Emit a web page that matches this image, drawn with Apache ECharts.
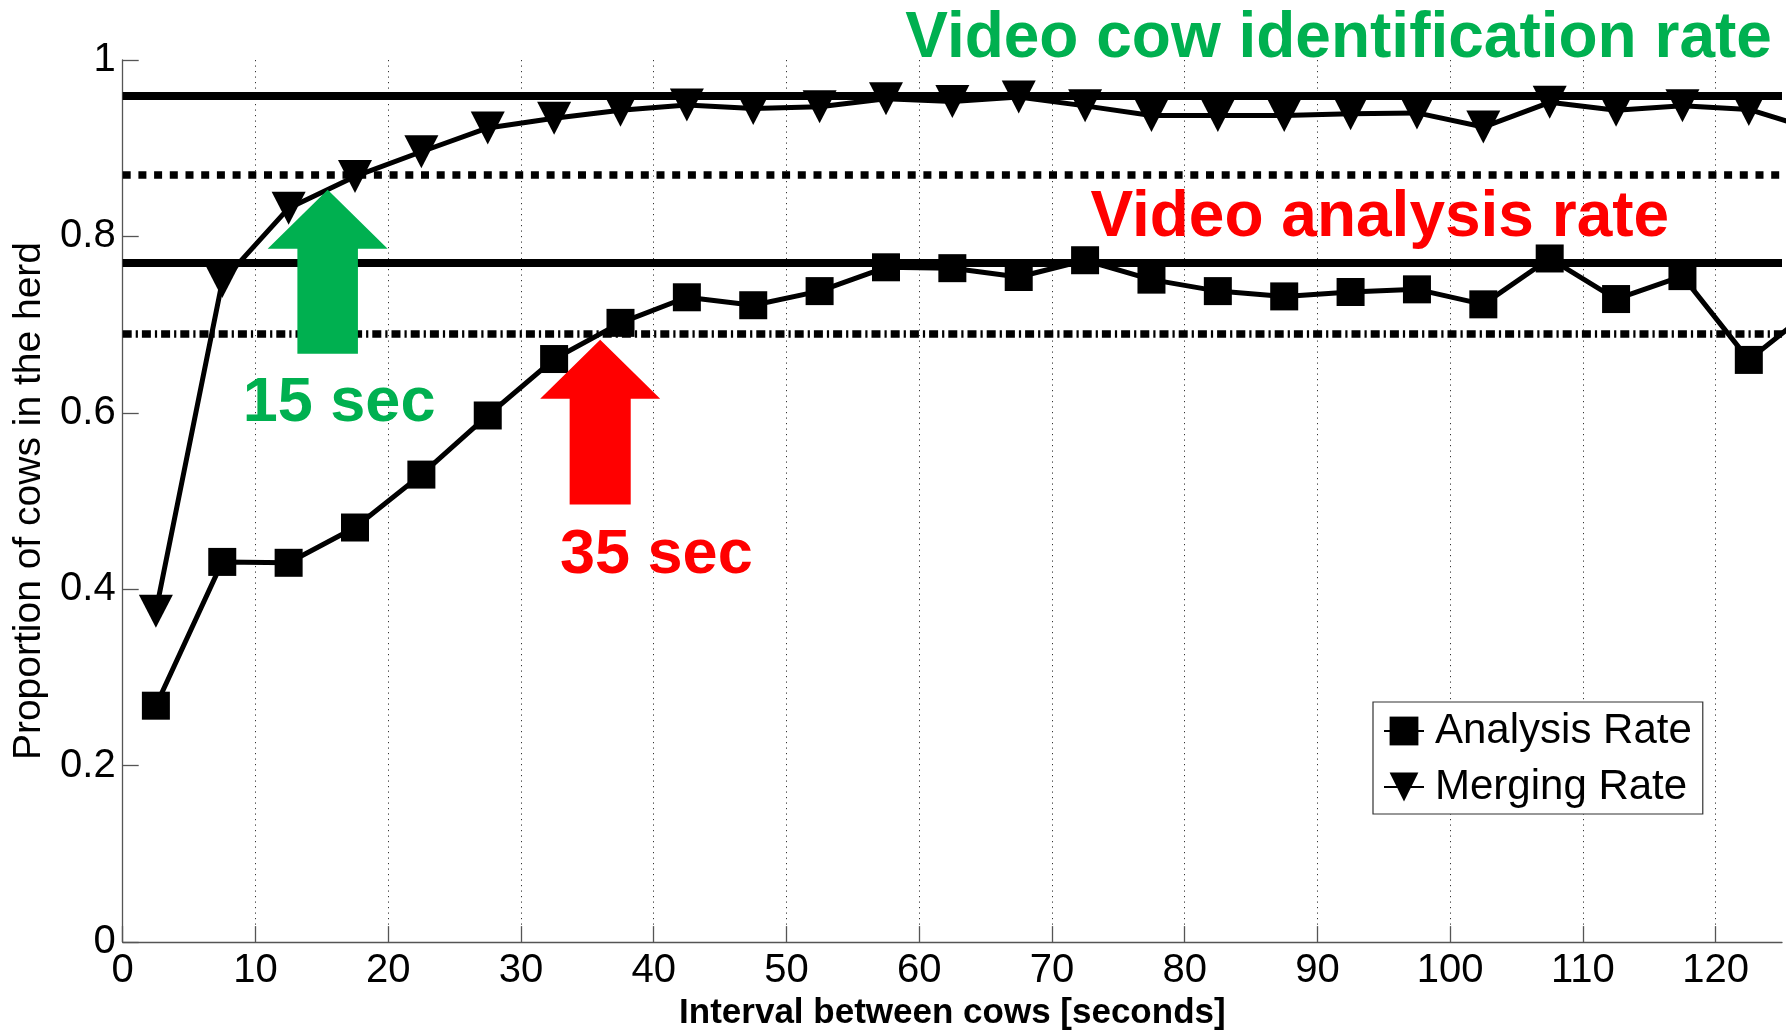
<!DOCTYPE html>
<html>
<head>
<meta charset="utf-8">
<script src="https://cdn.jsdelivr.net/npm/echarts@6/dist/echarts.min.js"></script>
<style>
  html, body { margin: 0; padding: 0; background: #fff; }
  #chart { width: 1789px; height: 1036px; }
</style>
</head>
<body>
<div id="chart"></div>
<script>
// Interval between cows (seconds), bin centres
const intervals = [2.5, 7.5, 12.5, 17.5, 22.5, 27.5, 32.5, 37.5, 42.5, 47.5,
  52.5, 57.5, 62.5, 67.5, 72.5, 77.5, 82.5, 87.5, 92.5, 97.5,
  102.5, 107.5, 112.5, 117.5, 122.5, 127.5];

// Proportion of cows in the herd
const analysisRate = [0.268, 0.431, 0.430, 0.470, 0.530, 0.597, 0.661, 0.702, 0.731, 0.722,
  0.738, 0.765, 0.764, 0.754, 0.773, 0.751, 0.738, 0.732, 0.737, 0.740,
  0.723, 0.775, 0.729, 0.755, 0.660, 0.72];
const mergingRate = [0.375, 0.749, 0.832, 0.868, 0.896, 0.923, 0.934, 0.943, 0.949, 0.945,
  0.947, 0.956, 0.953, 0.958, 0.948, 0.937, 0.937, 0.937, 0.939, 0.940,
  0.924, 0.952, 0.943, 0.948, 0.944, 0.921];

// Reference levels: video cow identification rate / video analysis rate
const identificationLevels = [0.965, 0.868];
const analysisLevels = [0.772, 0.692];

const xTicks = [0, 10, 20, 30, 40, 50, 60, 70, 80, 90, 100, 110, 120];
const seriesNames = ['Analysis Rate', 'Merging Rate'];

const GREEN = '#00B050';
const RED = '#FF0000';
const FONT = '"Liberation Sans", Arial, Helvetica, sans-serif';

// Annotation layer (arrows and labels) placed in data units
const annotations = [
  { kind: 'arrow', tip: [15.44, 0.853], headBase: 0.786, tail: 0.667, headHalf: 4.52, shaftHalf: 2.28, color: GREEN },
  { kind: 'arrow', tip: [35.97, 0.683], headBase: 0.616, tail: 0.496, headHalf: 4.52, shaftHalf: 2.3, color: RED },
  { kind: 'text', at: [91.6, 1.023], text: 'Video cow identification rate', color: GREEN, size: 64 },
  { kind: 'text', at: [94.7, 0.820], text: 'Video analysis rate', color: RED, size: 64 },
  { kind: 'text', at: [16.3, 0.610], text: '15 sec', color: GREEN, size: 63 },
  { kind: 'text', at: [40.2, 0.438], text: '35 sec', color: RED, size: 63 }
];

const pairs = (xs, ys) => xs.map((x, i) => [x, ys[i]]);

const refLine = (value, type, width) => ({
  yAxis: value,
  lineStyle: { color: '#000', width: width, type: type, cap: 'butt' }
});

const chart = echarts.init(document.getElementById('chart'), null, { renderer: 'canvas' });

chart.setOption({
  animation: false,
  backgroundColor: '#fff',
  textStyle: { fontFamily: FONT },
  grid: { left: 122.7, right: 7, top: 60, bottom: 87 },
  legend: {
    orient: 'vertical',
    left: 1373,
    top: 702,
    data: seriesNames,
    backgroundColor: '#fff',
    borderColor: '#333',
    borderWidth: 1.2,
    borderRadius: 0,
    padding: [8, 11, 6, 10],
    itemWidth: 40,
    itemHeight: 36,
    itemGap: 14,
    textStyle: { fontSize: 42, color: '#000', fontFamily: FONT, padding: [0, 0, 0, 6] }
  },
  xAxis: {
    type: 'value',
    min: 0,
    max: 125,
    interval: 10,
    name: 'Interval between cows [seconds]',
    nameLocation: 'middle',
    nameGap: 52,
    nameTextStyle: { fontSize: 35, fontWeight: 'bold', color: '#000', fontFamily: FONT },
    axisLine: { show: true, lineStyle: { color: '#555', width: 1.3 } },
    axisTick: { show: true, inside: true, length: 16, customValues: xTicks, lineStyle: { color: '#555', width: 1.3 } },
    axisLabel: { customValues: xTicks, fontSize: 40, color: '#000', margin: 9, fontFamily: FONT },
    splitLine: { show: true, lineStyle: { color: '#333', width: 1, type: [1.2, 4.3] } }
  },
  yAxis: {
    type: 'value',
    min: 0,
    max: 1,
    interval: 0.2,
    name: 'Proportion of cows in the herd',
    nameLocation: 'middle',
    nameGap: 69,
    nameTextStyle: { fontSize: 39, color: '#000', fontFamily: FONT },
    axisLine: { show: true, lineStyle: { color: '#555', width: 1.3 } },
    axisTick: { show: true, inside: true, length: 16, lineStyle: { color: '#555', width: 1.3 } },
    axisLabel: { fontSize: 40, color: '#000', margin: 7, fontFamily: FONT },
    splitLine: { show: false }
  },
  series: [
    {
      name: seriesNames[0],
      type: 'line',
      data: pairs(intervals, analysisRate),
      symbol: 'rect',
      symbolSize: 28,
      showAllSymbol: true,
      clip: true,
      z: 3,
      lineStyle: { color: '#000', width: 5 },
      itemStyle: { color: '#000' },
      markLine: {
        silent: true,
        symbol: ['none', 'none'],
        label: { show: false },
        z: 2,
        data: [
          refLine(identificationLevels[0], 'solid', 8),
          refLine(identificationLevels[1], [8, 7.7], 7.5),
          refLine(analysisLevels[0], 'solid', 8),
          refLine(analysisLevels[1], [9, 4, 2.2, 4], 7.5)
        ]
      }
    },
    {
      name: seriesNames[1],
      type: 'line',
      data: pairs(intervals, mergingRate),
      symbol: 'path://M0,0L2,0L1,2Z',
      symbolSize: [34, 33],
      symbolKeepAspect: false,
      showAllSymbol: true,
      clip: true,
      z: 3,
      lineStyle: { color: '#000', width: 5 },
      itemStyle: { color: '#000' }
    },
    {
      name: 'annotations',
      type: 'custom',
      coordinateSystem: 'cartesian2d',
      clip: false,
      silent: true,
      z: 10,
      data: annotations.map(a => a.kind === 'arrow' ? a.tip : a.at),
      renderItem: function (params, api) {
        const a = annotations[params.dataIndex];
        if (a.kind === 'arrow') {
          const x = a.tip[0];
          const pts = [
            [x, a.tip[1]],
            [x + a.headHalf, a.headBase],
            [x + a.shaftHalf, a.headBase],
            [x + a.shaftHalf, a.tail],
            [x - a.shaftHalf, a.tail],
            [x - a.shaftHalf, a.headBase],
            [x - a.headHalf, a.headBase]
          ].map(p => api.coord(p));
          return { type: 'polygon', shape: { points: pts }, style: { fill: a.color } };
        }
        const p = api.coord(a.at);
        return {
          type: 'text',
          x: p[0],
          y: p[1],
          style: {
            text: a.text,
            fill: a.color,
            font: 'bold ' + a.size + 'px ' + FONT,
            align: 'center',
            verticalAlign: 'middle'
          }
        };
      }
    }
  ]
});
</script>
</body>
</html>
